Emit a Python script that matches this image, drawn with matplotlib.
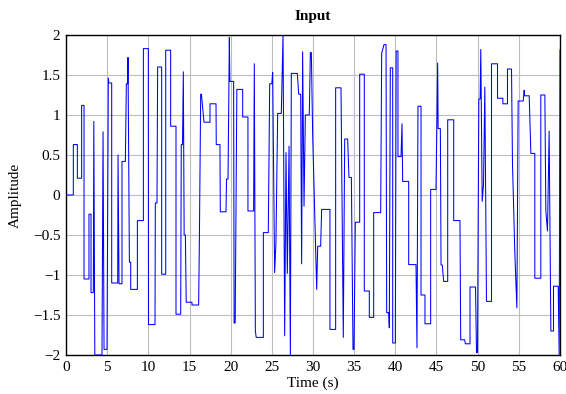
import matplotlib
matplotlib.use("Agg")
import matplotlib.pyplot as plt

# Vertices of the input signal path (time in s, amplitude)
time_s = [
    0, 0.89, 0.89, 1.38, 1.38, 1.90, 1.90, 2.19, 2.19, 2.79, 2.79, 3.04, 3.04, 3.32,
    3.38, 3.50, 4.37, 4.50, 4.62, 4.98, 5.14, 5.20, 5.55, 5.55, 6.28, 6.32, 6.44,
    6.80, 6.80, 7.21, 7.33, 7.49, 7.53, 7.70, 7.86, 7.86, 8.67, 8.67, 9.40, 9.40,
    10.0, 10.02, 10.81, 10.85, 11.05, 11.13, 11.62, 11.62, 12.11, 12.11, 12.71,
    12.71, 13.36, 13.36, 13.93, 14.0, 14.15, 14.25, 14.35, 14.50, 14.60, 15.3, 15.3,
    16.11, 16.19, 16.36, 16.45, 16.76, 17.49, 17.49, 18.22, 18.25, 18.70, 18.74,
    19.43, 19.5, 19.68, 19.84, 19.9, 20.36, 20.42, 20.55, 20.75, 21.46, 21.46,
    22.1, 22.1, 22.79, 22.87, 23.0, 23.1, 23.97, 23.97, 24.57, 24.74, 25.0, 25.10,
    25.34, 25.5, 25.71, 26.15, 26.36, 26.56, 26.72, 26.88, 27.09, 27.25, 27.37,
    28.10, 28.26, 28.50, 28.62, 28.74, 28.91, 29.07, 29.55, 29.68, 29.8, 29.96,
    30.45, 30.57, 30.93, 31.05, 32.06, 32.06, 32.75, 32.75, 33.40, 33.68, 33.85,
    34.21, 34.37, 34.66, 34.86, 34.98, 35.14, 35.67, 35.67, 36.23, 36.23, 36.84,
    36.84, 37.37, 37.37, 38.22, 38.34, 38.62, 38.87, 38.95, 39.2, 39.27, 39.39,
    39.68, 39.68, 40.0, 40.1, 40.32, 40.32, 40.69, 40.81, 40.89, 41.62, 41.62,
    42.51, 42.63, 42.75, 43.12, 43.12, 43.60, 43.60, 44.29, 44.29, 44.94, 45.14,
    45.2, 45.47, 45.55, 45.7, 45.87, 46.36, 46.36, 47.09, 47.09, 47.85, 47.94,
    48.42, 48.5, 49.07, 49.07, 49.74, 49.86, 49.98, 50.14, 50.30, 50.38, 50.55,
    50.71, 50.87, 51.07, 51.68, 51.68, 52.41, 52.41, 53.06, 53.06, 53.62, 53.62,
    54.11, 54.23, 54.51, 54.76, 54.92, 55.53, 55.65, 55.7, 56.26, 56.46, 56.94,
    56.94, 57.67, 57.67, 58.16, 58.28, 58.48, 58.68, 58.89, 59.21, 59.21, 59.78,
    59.9, 60.0,
]
amplitude = [
    0, 0, 0.63, 0.63, 0.21, 0.21, 1.12, 1.12, -1.05, -1.05, -0.24, -0.24, -1.22, -1.22,
    0.92, -2.0, -2.0, 0.79, -1.93, -1.93, 1.46, 1.40, 1.40, -1.10, -1.10, 0.5, -1.11,
    -1.11, 0.42, 0.42, 1.39, 1.39, 1.72, -0.84, -0.84, -1.18, -1.18, -0.32, -0.32, 1.83,
    1.83, -1.62, -1.62, -0.1, -0.1, 1.6, 1.6, -0.99, -0.99, 1.81, 1.81,
    0.86, 0.86, -1.49, -1.49, 0.63, 0.63, 1.54, -0.5, -0.5, -1.34, -1.34, -1.375,
    -1.375, -0.67, 1.26, 1.26, 0.91, 0.91, 1.14, 1.14, 0.63, 0.63, -0.21,
    -0.21, 0.2, 0.2, 1.97, 1.42, 1.42, -1.6, -1.6, 1.32, 1.32, 0.975,
    0.975, -0.2, -0.2, 1.64, -1.7, -1.78, -1.78, -0.47, -0.47, 1.39, 1.39, 1.53,
    -0.97, -0.59, 1.02, 1.02, 2.0, -1.76, 0.53, -0.98, 0.61, -2.0, 1.52,
    1.52, 1.26, 1.26, -0.86, 1.79, -0.14, 1.0, 1.0, 1.78, 1.78, 0.75,
    -1.18, -0.64, -0.64, -0.18, -0.18, -1.68, -1.68, 1.34, 1.34, -1.78, 0.70,
    0.70, 0.22, 0.22, -1.93, -1.93, -0.34, -0.34, 1.51, 1.51, -1.2, -1.2,
    -1.53, -1.53, -0.22, -0.22, 1.77, 1.88, 1.88, -1.47, -1.47, -1.66, 1.59,
    1.59, -1.85, -1.85, 1.8, 1.8, 0.48, 0.48, 0.89, 0.17, 0.17, -0.87,
    -0.87, -1.91, 1.11, 1.11, -1.25, -1.25, -1.61, -1.61, 0.07, 0.07, 1.65,
    0.83, 0.83, -0.875, -0.875, -1.08, -1.08, 0.94, 0.94, -0.32, -0.32, -1.81,
    -1.81, -1.86, -1.86, -1.15, -1.15, -1.97, -1.97, 1.2, 1.2, 1.82, -0.08,
    0.13, 1.35, -1.33, -1.33, 1.64, 1.64, 1.21, 1.21, 1.14, 1.14, 1.575,
    1.575, 0.39, -0.71, -1.41, 1.175, 1.175, 1.31, 1.24, 1.24, 0.52, 0.52,
    -1.04, -1.04, 1.25, 1.25, -0.2, -0.45, 0.8, -1.7, -1.7, -1.14, -1.14,
    -2.0, 1.81,
]

x_ticks = [0, 5, 10, 15, 20, 25, 30, 35, 40, 45, 50, 55, 60]
y_ticks = [-2, -1.5, -1, -0.5, 0, 0.5, 1, 1.5, 2]
y_tick_labels = ["\u22122", "\u22121.5", "\u22121", "\u22120.5", "0", "0.5", "1", "1.5", "2"]

plt.rcParams['font.family'] = ['Liberation Serif', 'DejaVu Serif']

fig = plt.figure(figsize=(5.66, 3.94), dpi=100)
ax = fig.add_axes([66/566, 1 - 355/394, (560 - 66)/566, (355 - 35)/394])

ax.plot(time_s, amplitude, color='#0000ff', linewidth=0.75, zorder=3)

ax.set_xlim(0, 60)
ax.set_ylim(-2, 2)
ax.set_xticks(x_ticks)
ax.set_xticklabels([str(v) for v in x_ticks])
ax.set_yticks(y_ticks)
ax.set_yticklabels(y_tick_labels)
ax.tick_params(axis='both', length=0, labelsize=11, pad=4)
ax.grid(True, color='#bdbdbd', linewidth=0.8, zorder=0)
for s in ax.spines.values():
    s.set_linewidth(1.0)
    s.set_color('black')

ax.set_title("Input", fontsize=11, fontweight='bold', pad=11)
ax.set_xlabel("Time (s)", fontsize=11, labelpad=2)
ax.set_ylabel("Amplitude", fontsize=11, labelpad=8)

fig.savefig("out.png", dpi=100)
